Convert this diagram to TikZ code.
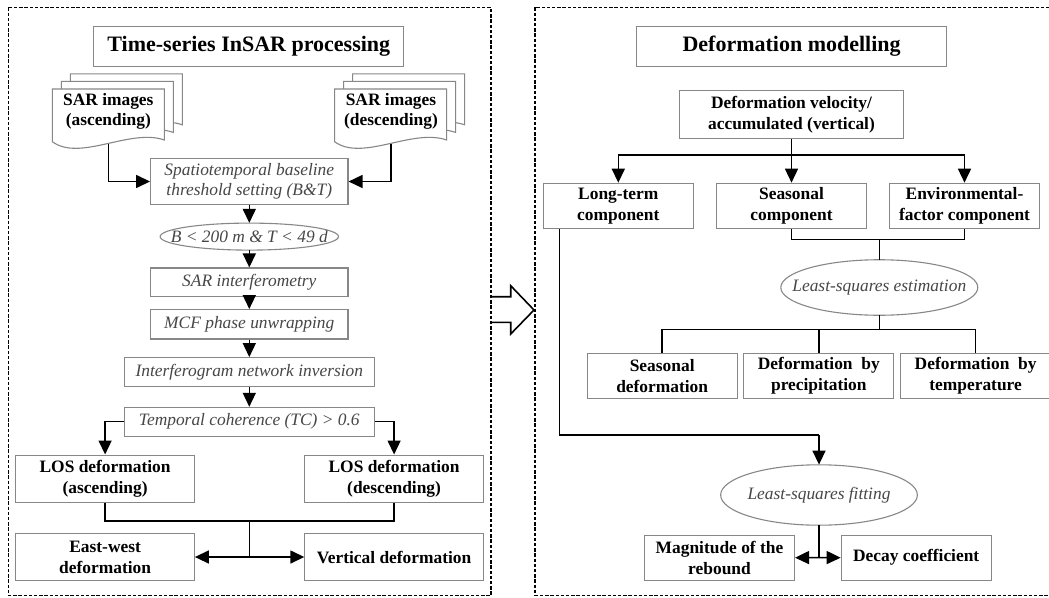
\documentclass[tikz,border=0pt]{standalone}
\usepackage{fontspec}
\setmainfont{Liberation Serif}
\usetikzlibrary{arrows.meta}

\definecolor{boxgray}{RGB}{135,135,135}
\definecolor{stepgray}{RGB}{70,70,70}

\begin{document}
\begin{tikzpicture}[x=1pt,y=-1pt,
    frame/.style={draw,line width=1.6pt,dash pattern=on 3.4pt off 1.8pt},
    box/.style={draw=boxgray,line width=1.1pt,inner sep=1pt,align=center},
    sheet/.style={draw=boxgray,line width=1.1pt,fill=white},
    oval/.style={draw=boxgray,line width=1.1pt},
    link/.style={draw,line width=1.5pt},
    arrowlink/.style={link,-{Triangle[length=14pt,width=13pt]}}]

  \useasboundingbox (0,0) rectangle (1049,597);
  \clip (0,0) rectangle (1049,597);

  \draw[frame] (8.5,7.4) rectangle (490.8,595.5);
  \draw[frame] (535.2,7.4) rectangle (1070,595.5);
  \draw[line width=1.6pt] (491,296.7) -- (510.7,296.7) -- (510.7,285.7) -- (534,310)
    -- (510.7,334) -- (510.7,322.3) -- (491,322.3);

  \foreach \d in {2,1,0} {
    \draw[sheet,shift={(9*\d,-7.6*\d)}] (52.3,89) -- (164.3,89) -- (164.3,140)
      .. controls (130,128) and (80,162) .. (52.3,141.7) -- cycle;
    \draw[sheet,shift={(282.3+9*\d,-7.6*\d)}] (52.3,89) -- (164.3,89) -- (164.3,140)
      .. controls (130,128) and (80,162) .. (52.3,141.7) -- cycle;
  }

  \begin{scope}[every node/.style={box,minimum width=310pt,minimum height=40pt,
      font=\fontsize{22}{26}\selectfont\bfseries}]
    \node (insartitle) at (248.8,46.3) {Time-series InSAR processing};
    \node (modeltitle) at (791.6,46.2) {Deformation modelling};
  \end{scope}

  \begin{scope}[every node/.style={align=center,font=\fontsize{17.4}{20.3}\selectfont\bfseries}]
    \node (ascimg)  at (108.3,111.5) {SAR images\\(ascending)};
    \node (descimg) at (391,111.5)   {SAR images\\(descending)};
  \end{scope}

  \begin{scope}[every node/.style={box,text=stepgray,
      font=\fontsize{17.4}{20.3}\selectfont\itshape}]
    \node[minimum width=197.4pt,minimum height=45.3pt] (baseline)  at (249.3,181.5) {Spatiotemporal baseline\\threshold setting (B\&T)};
    \node[minimum width=197.4pt,minimum height=28.4pt] (interf)    at (249.3,282.2) {SAR interferometry};
    \node[minimum width=197.4pt,minimum height=29.4pt] (unwrap)    at (249.3,324.3) {MCF phase unwrapping};
    \node[minimum width=250.2pt,minimum height=28.7pt] (inversion) at (249.3,372)   {Interferogram network inversion};
    \node[minimum width=250.2pt,minimum height=28.7pt] (coherence) at (249.3,421.7) {Temporal coherence (TC) > 0.6};
  \end{scope}

  \begin{scope}[every node/.style={inner sep=0pt,text=stepgray,
      font=\fontsize{17.4}{20.3}\selectfont\itshape}]
    \node[minimum width=178.4pt,minimum height=27pt]   (threshold) at (249.3,236.6) {B < 200 m \& T < 49 d};
    \node[minimum width=197pt,minimum height=55.5pt]   (lsestim)   at (879.3,287.5) {Least-squares estimation};
    \node[minimum width=196.7pt,minimum height=60.4pt] (lsfit)     at (819,495)     {Least-squares fitting};
  \end{scope}
  \draw[oval] (threshold.center) ellipse [x radius=89.2pt,y radius=13.5pt];
  \draw[oval] (lsestim.center) ellipse [x radius=98.5pt,y radius=27.75pt];
  \draw[oval] (lsfit.center) ellipse [x radius=98.35pt,y radius=30.2pt];

  \begin{scope}[every node/.style={box,minimum width=178.5pt,minimum height=47.3pt,
      font=\fontsize{17.4}{20.8}\selectfont\bfseries}]
    \node (losasc)  at (105.1,478.7) {LOS deformation\\(ascending)};
    \node (losdesc) at (394.1,478.7) {LOS deformation\\(descending)};
    \node (ewdef)   at (105.1,557)   {East-west\\deformation};
    \node (vertdef) at (394.1,557)   {Vertical deformation};
  \end{scope}

  \begin{scope}[every node/.style={box,minimum width=150pt,minimum height=45.5pt,
      font=\fontsize{17.4}{20.8}\selectfont\bfseries}]
    \node[minimum width=224.4pt,minimum height=47.9pt] (velocity) at (791.5,114.4) {Deformation velocity/\\accumulated (vertical)};
    \node (longterm)  at (618.3,206)   {Long-term\\component};
    \node (seasonal)  at (791.5,206)   {Seasonal\\component};
    \node (envfactor) at (964.5,206)   {Environmental-\\factor component};
    \node (seasdef)   at (662.2,375.9) {Seasonal\\deformation};
    \node (precdef)   at (818.8,375.9) {Deformation~~by\\precipitation};
    \node (tempdef)   at (975.6,375.9) {Deformation~~by\\temperature};
    \node[minimum height=44.8pt] (magnitude) at (719.5,557.7) {Magnitude of the\\rebound};
    \node[minimum height=44.8pt] (decay)     at (916.2,557.7) {Decay coefficient};
  \end{scope}

  \coordinate (ascfoot)  at (108.3,144);
  \coordinate (descfoot) at (391,144);
  \coordinate (losjoin)  at (249.3,520.9);
  \coordinate (defsplit) at (249.3,557);
  \coordinate (velsplit) at (791.5,155.2);
  \coordinate (compjoin) at (879.3,239.5);
  \coordinate (lsebar)   at (879.3,329.5);
  \coordinate (ltbend)   at (819,435.1);
  \coordinate (fitsplit) at (819,557.5);

  \draw[arrowlink] (ascfoot) |- (baseline.west);
  \draw[arrowlink] (descfoot) |- (baseline.east);
  \path[arrowlink] (baseline) edge (threshold)
                   (threshold) edge (interf)
                   (interf) edge (unwrap)
                   (unwrap) edge (inversion)
                   (inversion) edge (coherence);
  \draw[arrowlink] (coherence.west) -| (losasc.north);
  \draw[arrowlink] (coherence.east) -| (losdesc.north);
  \draw[link] (losasc.south) |- (losjoin) -| (losdesc.south);
  \draw[link] (losjoin) -- (defsplit);
  \draw[arrowlink] (defsplit) -- (ewdef.east);
  \draw[arrowlink] (defsplit) -- (vertdef.west);

  \draw[link] (velocity.south) -- (velsplit);
  \draw[arrowlink] (velsplit) -| (longterm.north);
  \draw[arrowlink] (velsplit) -- (seasonal.north);
  \draw[arrowlink] (velsplit) -| (envfactor.north);
  \draw[link] (seasonal.south) |- (compjoin) -| (envfactor.south);
  \draw[link] (compjoin) -- (lsestim.north);
  \draw[link] (lsestim.south) -- (lsebar);
  \draw[link] (seasdef.north) |- (lsebar) -| (tempdef.north);
  \draw[link] (precdef.north) -- (precdef.north |- lsebar);
  \draw[link] ([xshift=16.6pt]longterm.south west) |- (ltbend);
  \draw[arrowlink] (ltbend) -- (lsfit.north);
  \draw[link] (lsfit.south) -- (fitsplit);
  \draw[arrowlink] (fitsplit) -- (magnitude.east);
  \draw[arrowlink] (fitsplit) -- (decay.west);

\end{tikzpicture}
\end{document}
